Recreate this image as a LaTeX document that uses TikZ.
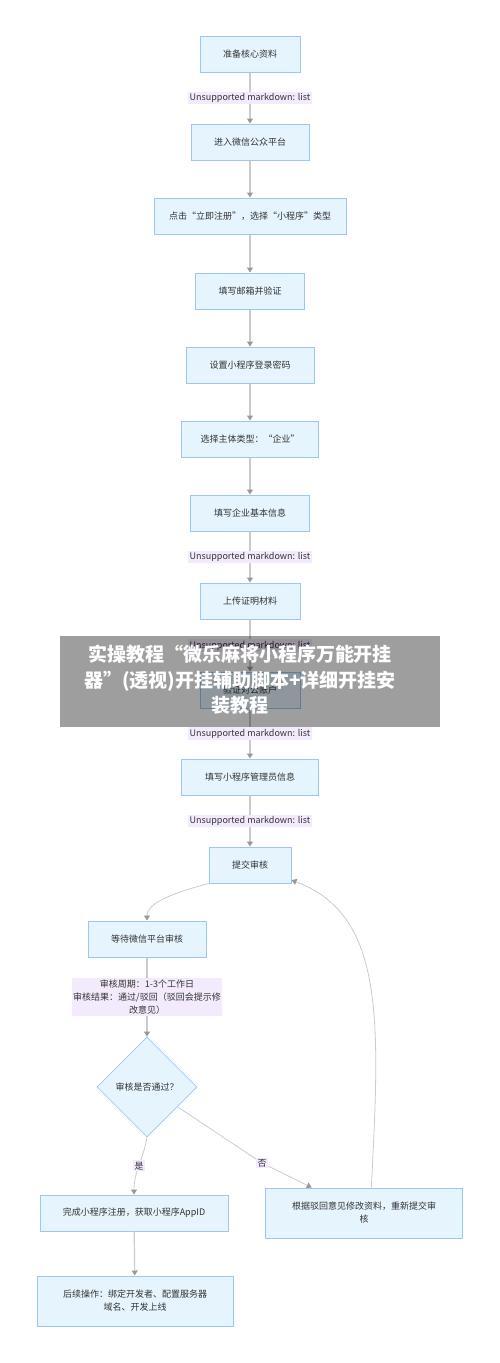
\documentclass[tikz,border=0pt]{standalone}
\usepackage{fontspec}
\setmainfont{Noto Sans CJK SC}
\usepackage{xcolor}
\usepackage{tikz}
\usetikzlibrary{arrows.meta,shapes.geometric}
\definecolor{boxfill}{HTML}{E5F4FD}
\definecolor{boxline}{HTML}{9CC6F7}
\definecolor{labelfill}{HTML}{F3EBFD}
\definecolor{linegray}{HTML}{CBCBCB}
\definecolor{tipgray}{HTML}{999999}
\definecolor{ink}{HTML}{333333}

\begin{document}
\begin{tikzpicture}[x=1pt,y=-1pt,
 font=\fontsize{9}{13}\selectfont,text=ink,
 box/.style={draw=boxline,line width=1pt,fill=boxfill,align=center,minimum height=36pt,inner sep=4pt},
 lbl/.style={fill=labelfill,inner sep=1.5pt,align=center},
 arrow/.style={-{Triangle[length=5pt,width=6pt,color=tipgray]},draw=linegray,line width=1.2pt},
 curve/.style={arrow,line width=0.8pt},
 decision/.style={diamond,draw=boxline,line width=0.8pt,fill=boxfill,minimum width=100pt,minimum height=100pt,inner sep=0pt}
]
\useasboundingbox (0,0) rectangle (500,1363);
\node[box,minimum width=100pt] (prep) at (250,54) {准备核心资料};
\node[box,minimum width=118pt] (enter) at (250,142) {进入微信公众平台};
\node[box,minimum width=192pt] (click) at (250,216) {点击“立即注册”，选择“小程序”类型};
\node[box,minimum width=109pt] (mail) at (250,291) {填写邮箱并验证};
\node[box,minimum width=128pt] (pwd) at (250,365) {设置小程序登录密码};
\node[box,minimum width=137pt] (subject) at (250,439) {选择主体类型：“企业”};
\node[box,minimum width=119pt] (info) at (250,513) {填写企业基本信息};
\node[box,minimum width=100pt] (upload) at (250,601) {上传证明材料};
\node[box,minimum width=100pt] (verify) at (250,690) {验证对公账户};
\node[box,minimum width=137pt] (admin) at (250,777) {填写小程序管理员信息};
\node[box,minimum width=82pt] (submit) at (250,865) {提交审核};
\node[box,minimum width=118pt] (wait) at (147,939) {等待微信平台审核};
\node[decision] (check) at (147,1087) {审核是否通过？};
\node[box,minimum width=188pt] (done) at (134,1213) {完成小程序注册，获取小程序AppID};
\node[box,minimum width=197pt,minimum height=50pt] (fix) at (364,1213) {根据驳回意见修改资料，重新提交审\\核};
\node[box,minimum width=196pt,minimum height=50pt] (next) at (135,1301) {后续操作：绑定开发者、配置服务器\\域名、开发上线};

\draw[arrow] (prep) -- (enter) node[lbl,midway] {Unsupported markdown: list};
\draw[arrow] (enter) -- (click);
\draw[arrow] (click) -- (mail);
\draw[arrow] (mail) -- (pwd);
\draw[arrow] (pwd) -- (subject);
\draw[arrow] (subject) -- (info);
\draw[arrow] (info) -- (upload) node[lbl,midway] {Unsupported markdown: list};
\draw[arrow] (upload) -- (verify) node[lbl,midway] {Unsupported markdown: list};
\draw[arrow] (verify) -- (admin) node[lbl,midway] {Unsupported markdown: list};
\draw[arrow] (admin) -- (submit) node[lbl,midway] {Unsupported markdown: list};
\draw[curve] (submit.south west) .. controls (165,895) and (147,905) .. (wait.north);
\draw[arrow] (wait) -- (check) node[lbl,midway] {审核周期：1-3个工作日\\审核结果：通过/驳回（驳回会提示修\\改意见）};
\draw[curve] (check.south) to[out=-100,in=90] node[lbl,pos=.5] {是} (done.north);
\draw[curve] (check.-33) -- (262,1163) node[lbl] {否} -- (fix.154);
\draw[curve] (fix.74) .. controls (380,1020) and (385,915) .. (submit.-20);
\draw[arrow] (done) -- (next);

\node[fill=black,fill opacity=0.38,minimum width=380pt,minimum height=91pt] (banner) at (250,681.5) {};
\node[text=white,align=center,font=\fontsize{19}{25.5}\selectfont\bfseries] (bannertext) at (240,680) {实操教程“微乐麻将小程序万能开挂\\器”(透视)开挂辅助脚本+详细开挂安\\装教程};
\end{tikzpicture}
\end{document}
